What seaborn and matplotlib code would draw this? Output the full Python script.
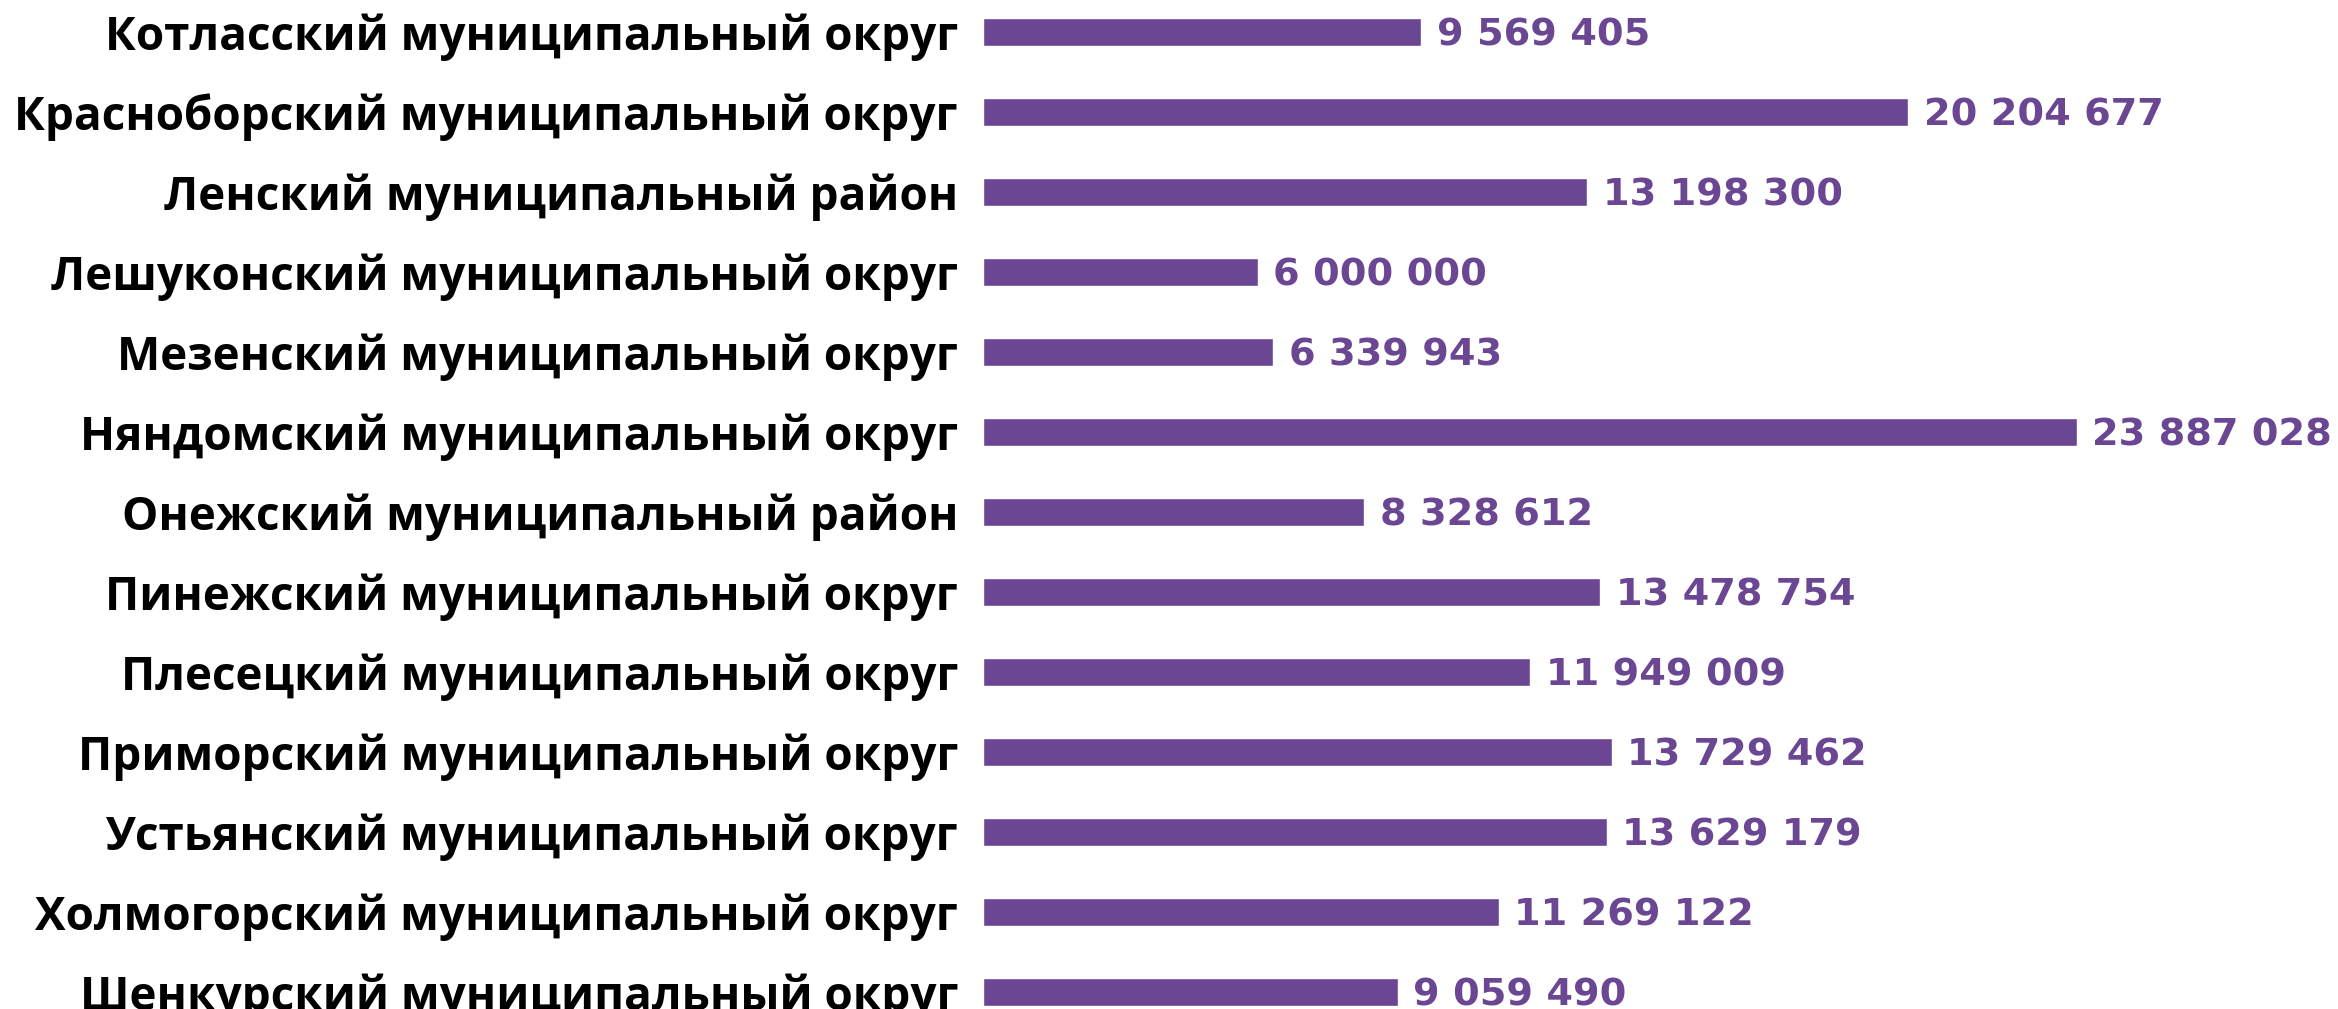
import matplotlib
matplotlib.use("Agg")
import matplotlib.pyplot as plt
import pandas as pd
import seaborn as sns

districts = [
    "Котласский муниципальный округ",
    "Красноборский муниципальный округ",
    "Ленский муниципальный район",
    "Лешуконский муниципальный округ",
    "Мезенский муниципальный округ",
    "Няндомский муниципальный округ",
    "Онежский муниципальный район",
    "Пинежский муниципальный округ",
    "Плесецкий муниципальный округ",
    "Приморский муниципальный округ",
    "Устьянский муниципальный округ",
    "Холмогорский муниципальный округ",
    "Шенкурский муниципальный округ",
]
amounts = [
    9569405, 20204677, 13198300, 6000000, 6339943, 23887028, 8328612,
    13478754, 11949009, 13729462, 13629179, 11269122, 9059490,
]

bar_color = "#6B4793"

sns.set_theme(style="white")
plt.rcParams["font.family"] = ["Open Sans", "DejaVu Sans"]

df = pd.DataFrame({"district": districts, "amount": amounts})

fig = plt.figure(figsize=(23.38, 10.09), dpi=100)
# axes from the bar origin to the right edge of the image
ax = fig.add_axes([983 / 2338, 0, 1 - 983 / 2338, 1])

sns.barplot(data=df, x="amount", y="district", color=bar_color,
            width=0.35, saturation=1, ax=ax)

ax.set_xlim(0, max(amounts) * (2338 - 983) / (2077 - 983))
ax.set_ylim(12 + (1009 - 992) / 80, -31.5 / 80)

vals = ax.bar_label(ax.containers[0],
                    labels=[f"{v:,}".replace(",", " ") for v in amounts],
                    padding=11, color=bar_color, fontsize=27.5,
                    fontweight="bold", family="DejaVu Sans")
for t in vals:
    t.set_va("center_baseline")

ax.set_xlabel("")
ax.set_ylabel("")
ax.set_xticks([])
ax.tick_params(axis="y", length=0, pad=18)
for lbl in ax.get_yticklabels():
    lbl.set_fontsize(33)
    lbl.set_fontweight("bold")
    lbl.set_color("black")
sns.despine(ax=ax, left=True, bottom=True)

fig.savefig("out.png", dpi=100)
